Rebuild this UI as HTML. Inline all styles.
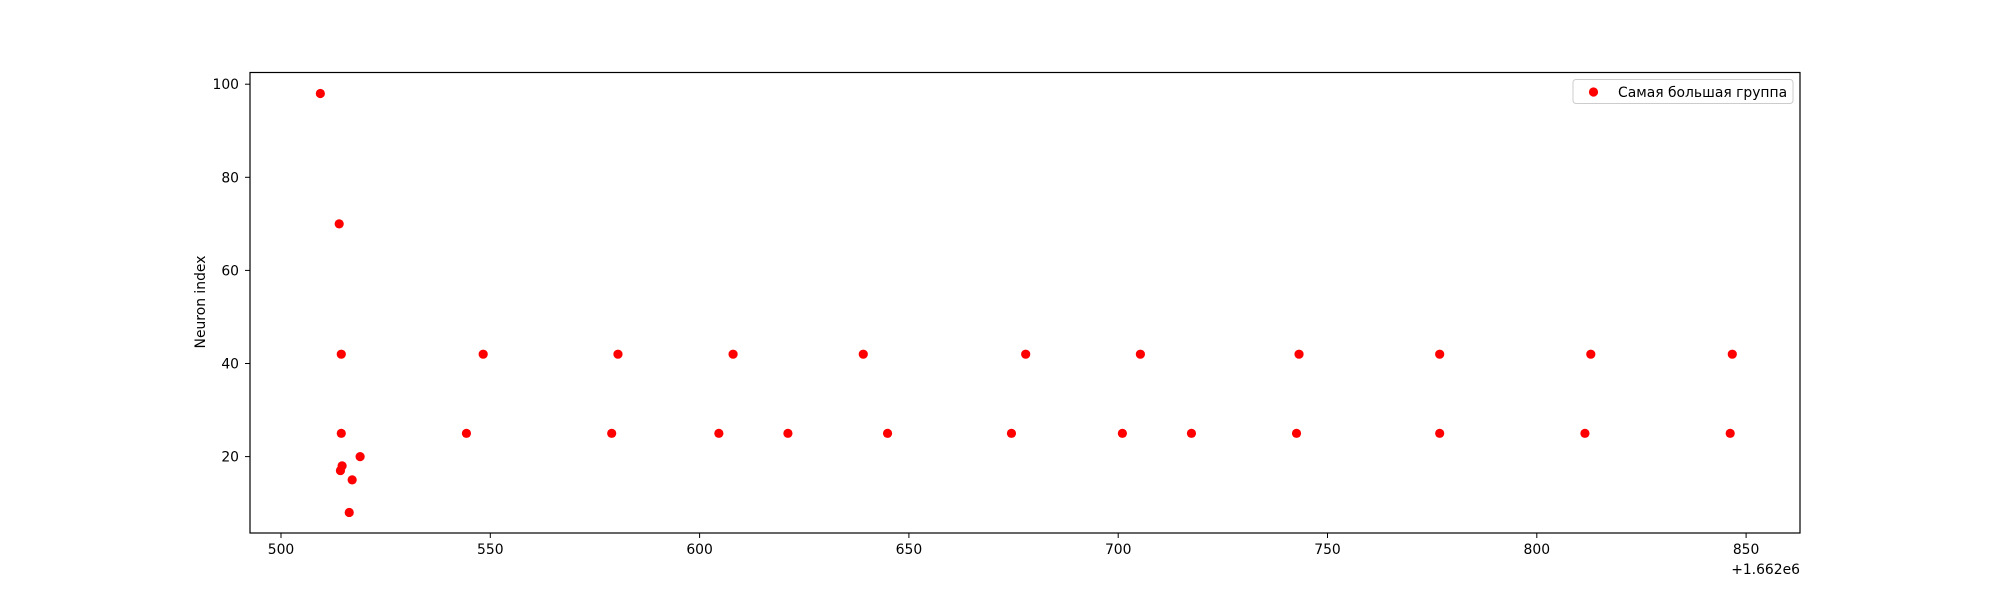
<!DOCTYPE html>
<html><head><meta charset="utf-8"><style>
html,body{margin:0;padding:0;background:#fff;}
svg{display:block;font-family:"DejaVu Sans","Liberation Sans",sans-serif;}
</style></head><body>
<svg id="chart" width="2000" height="600" viewBox="0 0 2000 600"></svg>
<script>
const xValues = [509.4,513.9,514.4,514.4,518.9,514.6,514.2,517.0,516.3,548.3,544.3,
  580.5,608,639.1,677.9,705.3,743.2,776.8,812.9,846.7,
  579,604.6,621.1,644.9,674.5,701,717.5,742.6,776.8,811.5,846.2];
const yValues = [98,70,42,25,20,18,17,15,8,42,25,
  42,42,42,42,42,42,42,42,42,
  25,25,25,25,25,25,25,25,25,25,25];
const xTicks = [500,550,600,650,700,750,800,850];
const yTicks = [20,40,60,80,100];

const NS='http://www.w3.org/2000/svg';
const svg=document.getElementById('chart');
const L=250,R=1800,T=72.5,B=533;
const sx=v=>281+(v-500)*4.186;
const sy=v=>456.6-(v-20)*4.655;
function el(tag,attrs,parent){const e=document.createElementNS(NS,tag);for(const k in attrs)e.setAttribute(k,attrs[k]);(parent||svg).appendChild(e);return e;}

xTicks.forEach(t=>{
  const g=el('g',{});
  
  
  el('line',{x1:sx(t),x2:sx(t),y1:B,y2:B+5,stroke:'#000','stroke-width':1},g);
  const tx=el('text',{x:sx(t),y:554,'font-size':13.9,'text-anchor':'middle',fill:'#000'},g);
  tx.textContent=t;
});
yTicks.forEach(t=>{
  const g=el('g',{});
  
  
  el('line',{x1:L-5,x2:L,y1:sy(t),y2:sy(t),stroke:'#000','stroke-width':1},g);
  const tx=el('text',{x:239,y:sy(t)+5,'font-size':13.9,'text-anchor':'end',fill:'#000'},g);
  tx.textContent=t;
});
const off=el('text',{x:1800,y:574,'font-size':13.9,'text-anchor':'end',fill:'#000'});


off.textContent='+1.662e6';
const yl=el('text',{x:0,y:0,'font-size':13.9,'text-anchor':'middle',fill:'#000',transform:'translate(205,302) rotate(-90)'});


yl.textContent='Neuron index';

xValues.forEach((v,i)=>{
  const c=el('circle',{cx:sx(v),cy:sy(yValues[i]),r:4.6,fill:'#ff0000'});
  
  
});

const frame=el('rect',{x:L,y:T,width:R-L,height:B-T,fill:'none',stroke:'#000','stroke-width':1.2});



const lg=el('g',{});


el('rect',{x:1573,y:79.5,width:220,height:24,rx:3,fill:'#fff','fill-opacity':0.8,stroke:'#cccccc','stroke-width':1},lg);
el('circle',{cx:1593.5,cy:92,r:4.6,fill:'#ff0000'},lg);
const lt=el('text',{x:1618,y:97,'font-size':13.9,fill:'#000'},lg);
lt.textContent='Самая большая группа';
</script>
</body></html>
